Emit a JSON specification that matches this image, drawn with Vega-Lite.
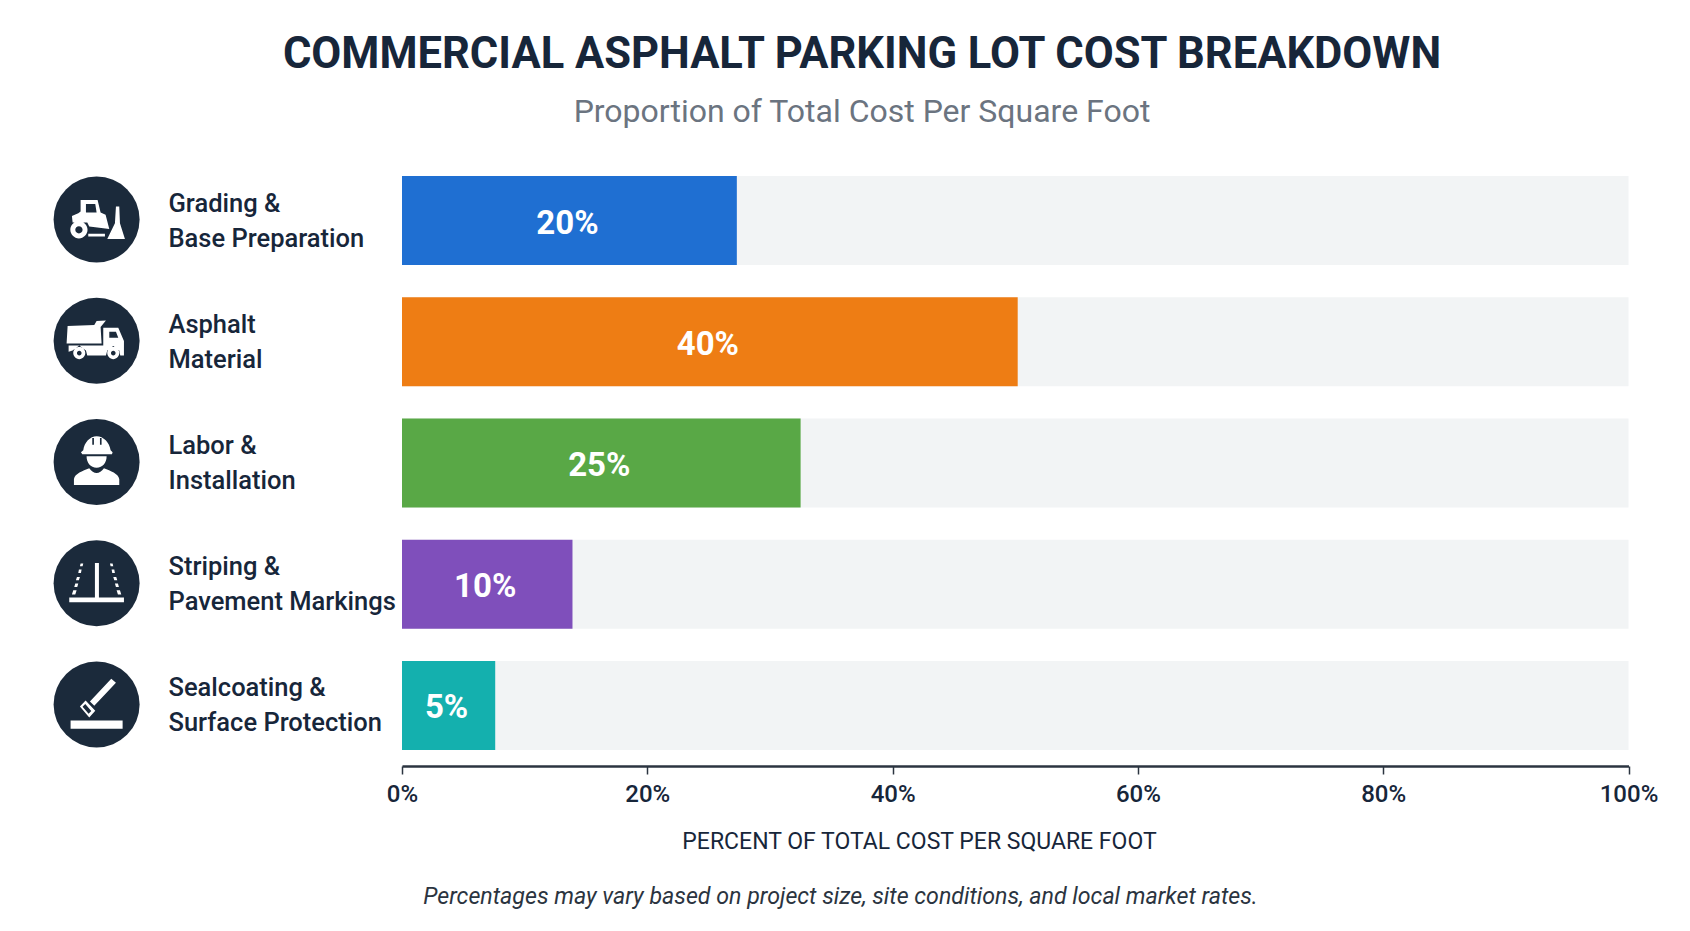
{
  "$schema": "https://vega.github.io/schema/vega-lite/v6.json",
  "width": 1226.5,
  "height": 606,
  "autosize": {"type": "none"},
  "padding": {"left": 402, "top": 160, "right": 61.5, "bottom": 165},
  "background": "#ffffff",
  "title": {
    "text": "COMMERCIAL ASPHALT PARKING LOT COST BREAKDOWN",
    "subtitle": "Proportion of Total Cost Per Square Foot",
    "anchor": "start",
    "align": "center",
    "frame": "group",
    "dx": 460,
    "offset": 31,
    "font": "Roboto",
    "fontSize": 43.5,
    "fontWeight": "bold",
    "color": "#17263A",
    "subtitleFont": "Roboto",
    "subtitleFontSize": 32,
    "subtitleFontWeight": "normal",
    "subtitleColor": "#6B7480",
    "subtitlePadding": 20
  },
  "data": {
    "values": [
      {"category": "Grading &|Base Preparation", "share": "20%", "drawn": 27.3, "full": 100},
      {"category": "Asphalt|Material", "share": "40%", "drawn": 50.2, "full": 100},
      {"category": "Labor &|Installation", "share": "25%", "drawn": 32.5, "full": 100},
      {"category": "Striping &|Pavement Markings", "share": "10%", "drawn": 13.9, "full": 100},
      {"category": "Sealcoating &|Surface Protection", "share": "5%", "drawn": 7.6, "full": 100}
    ]
  },
  "encoding": {
    "y": {
      "field": "category",
      "type": "nominal",
      "sort": null,
      "scale": {"paddingInner": 0.267, "paddingOuter": 0.133},
      "axis": {
        "title": null,
        "domain": false,
        "ticks": false,
        "labelExpr": "split(datum.label, '|')",
        "labelAlign": "left",
        "labelPadding": 234,
        "labelOffset": -17,
        "labelFont": "Roboto",
        "labelFontSize": 25.5,
        "labelFontWeight": 500,
        "labelColor": "#17263A",
        "labelLineHeight": 35,
        "labelLimit": 300
      }
    }
  },
  "layer": [
    {
      "mark": {"type": "bar", "color": "#F2F4F5"},
      "encoding": {
        "x": {
          "field": "full",
          "type": "quantitative",
          "scale": {"domain": [0, 100]},
          "axis": {
            "values": [0, 20, 40, 60, 80, 100],
            "labelExpr": "datum.value + '%'",
            "grid": false,
            "domainColor": "#2B3440",
            "domainWidth": 2.5,
            "tickColor": "#2B3440",
            "tickWidth": 1.5,
            "tickSize": 8,
            "labelFont": "Roboto",
            "labelFontSize": 24,
            "labelFontWeight": 500,
            "labelColor": "#17263A",
            "labelPadding": 8,
            "labelFlush": false,
            "title": "PERCENT OF TOTAL COST PER SQUARE FOOT",
            "titleFont": "Roboto",
            "titleFontSize": 23,
            "titleFontWeight": "normal",
            "titleColor": "#17263A",
            "titleX": 517,
            "titleY": 75,
            "titleBaseline": "middle"
          }
        }
      }
    },
    {
      "mark": {"type": "bar"},
      "encoding": {
        "x": {"field": "drawn", "type": "quantitative", "axis": null},
        "color": {
          "field": "category",
          "type": "nominal",
          "sort": null,
          "legend": null,
          "scale": {"range": ["#1F6FD2", "#EE7D14", "#59A846", "#7F4FBB", "#14B0AE"]}
        }
      }
    },
    {
      "mark": {"type": "text", "color": "#ffffff", "font": "Roboto", "fontSize": 33, "fontWeight": "bold", "dx": -2, "dy": 3},
      "encoding": {
        "x": {"field": "drawn", "type": "quantitative", "stack": "zero", "bandPosition": 0.5, "axis": null},
        "detail": {"field": "category"},
        "text": {"field": "share"}
      }
    },
    {
      "mark": {"type": "point", "shape": "circle", "filled": true, "color": "#1B2A3B", "opacity": 1, "size": 7396, "yOffset": -1},
      "encoding": {
        "x": {
          "datum": -24.9,
          "axis": {
            "orient": "bottom",
            "title": "Percentages may vary based on project size, site conditions, and local market rates.",
            "domain": false,
            "ticks": false,
            "labels": false,
            "grid": false,
            "titleFont": "Roboto",
            "titleFontSize": 23.2,
            "titleFontStyle": "italic",
            "titleFontWeight": "normal",
            "titleColor": "#2B3440",
            "titleX": 438,
            "titleY": 130,
            "titleBaseline": "middle"
          }
        }
      }
    },
    {
      "mark": {"type": "point", "filled": true, "color": "#ffffff", "opacity": 1, "size": 7396, "yOffset": -1},
      "encoding": {
        "x": {"datum": -24.9, "axis": null},
        "shape": {
          "field": "category",
          "type": "nominal",
          "sort": null,
          "legend": null,
          "scale": {
            "range": [
              "M-.372 -.457 L.023 -.457 L.093 -.163 L.209 -.109 L.295 .217 L-.171 .163 L-.217 .07 L-.558 .07 L-.574 -.085 L-.426 -.147 L-.372 -.186Z M-.248 -.364 L-.248 -.163 L0 -.163 L-.031 -.364Z M-.611 .24 C-.611 .13 -.521 .04 -.411 .04 C-.301 .04 -.211 .13 -.211 .24 C-.211 .35 -.301 .44 -.411 .44 C-.521 .44 -.611 .35 -.611 .24Z M-.496 .24 C-.496 .287 -.458 .325 -.411 .325 C-.364 .325 -.326 .287 -.326 .24 C-.326 .193 -.364 .155 -.411 .155 C-.458 .155 -.496 .193 -.496 .24Z M-.194 .333 L.194 .333 L.194 .395 L-.194 .395Z M.45 -.302 L.527 -.302 L.543 .085 L.659 .45 L.248 .45 L.426 .085Z",
              "M-.674 -.341 L-.054 -.364 L0 -.457 L.217 -.473 L.093 -.318 L.116 .062 L-.698 .062Z M.155 -.302 L.504 -.302 L.636 .008 L.636 .341 L.55 .341 L.527 .225 L.388 .124 L.248 .225 L.217 .341 L-.217 .341 L-.248 .225 L-.403 .109 L-.558 .225 L-.651 .256 L-.651 .109 L.155 .109Z M.295 -.209 L.295 -.07 L.504 -.07 L.45 -.209Z M-.543 .287 C-.543 .21 -.48 .147 -.403 .147 C-.326 .147 -.263 .21 -.263 .287 C-.263 .364 -.326 .427 -.403 .427 C-.48 .427 -.543 .364 -.543 .287Z M-.457 .287 C-.457 .317 -.433 .341 -.403 .341 C-.373 .341 -.349 .317 -.349 .287 C-.349 .257 -.373 .233 -.403 .233 C-.433 .233 -.457 .257 -.457 .287Z M.248 .287 C.248 .21 .311 .147 .388 .147 C.465 .147 .528 .21 .528 .287 C.528 .364 .465 .427 .388 .427 C.311 .427 .248 .364 .248 .287Z M.334 .287 C.334 .317 .358 .341 .388 .341 C.418 .341 .442 .317 .442 .287 C.442 .257 .418 .233 .388 .233 C.358 .233 .334 .257 .334 .287Z",
              "M-.31 -.271 C-.29 -.45 -.15 -.597 0 -.597 C.16 -.597 .3 -.45 .326 -.271 L.372 -.225 L.357 -.178 L-.333 -.178 L-.364 -.225Z M-.101 -.56 L-.101 -.403 L-.062 -.403 L-.062 -.56Z M.078 -.56 L.078 -.403 L.116 -.403 L.116 -.56Z M-.233 -.132 L.233 -.132 C.233 .023 .14 .132 0 .132 C-.14 .132 -.233 .023 -.233 -.132Z M-.527 .535 L-.527 .395 C-.5 .27 -.33 .21 -.171 .147 C-.12 .22 -.06 .256 0 .256 C.06 .256 .12 .22 .171 .147 C.33 .21 .5 .27 .527 .395 L.527 .535Z",
              "M-.636 .333 L.636 .333 L.636 .442 L-.636 .442Z M-.039 -.473 L.054 -.473 L.054 .333 L-.039 .333Z M-.372 -.457 L-.31 -.457 L-.326 -.395 L-.388 -.395Z M-.411 -.318 L-.349 -.318 L-.364 -.24 L-.426 -.24Z M-.457 -.147 L-.388 -.147 L-.411 -.07 L-.481 -.07Z M-.496 .008 L-.426 .008 L-.45 .085 L-.519 .085Z M-.543 .163 L-.465 .163 L-.496 .264 L-.574 .264Z M.31 -.457 L.372 -.457 L.388 -.395 L.326 -.395Z M.349 -.318 L.411 -.318 L.426 -.24 L.364 -.24Z M.388 -.147 L.457 -.147 L.481 -.07 L.411 -.07Z M.426 .008 L.496 .008 L.519 .085 L.45 .085Z M.465 .163 L.543 .163 L.574 .264 L.496 .264Z",
              "M.341 -.597 L.45 -.504 L-.054 .031 L-.155 -.07Z M-.256 -.093 L-.031 .147 L-.171 .302 L-.388 .047Z M-.264 -.008 L-.326 .054 L-.186 .217 L-.124 .155Z M-.605 .372 L.605 .372 L.605 .566 L-.605 .566Z"
            ]
          }
        }
      }
    }
  ],
  "resolve": {"axis": {"x": "independent"}},
  "config": {"view": {"stroke": null}}
}
